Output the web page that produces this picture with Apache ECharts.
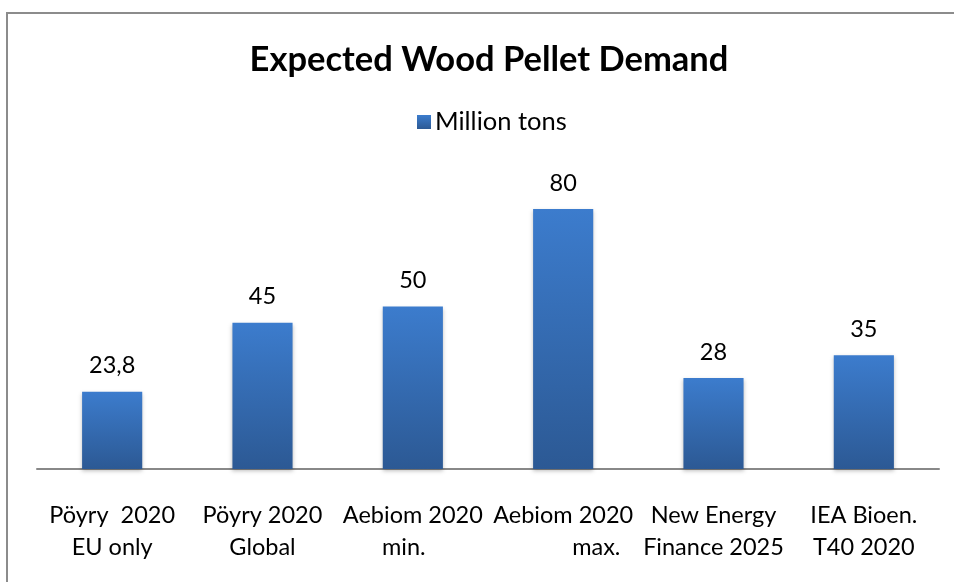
<!DOCTYPE html>
<html>
<head>
<meta charset="utf-8">
<script src="https://cdn.jsdelivr.net/npm/echarts@6/dist/echarts.min.js"></script>
<style>html,body{margin:0;padding:0;background:#fff}#c{width:954px;height:582px}</style>
</head>
<body>
<div id="c"></div>
<script>
var titleText = 'Expected Wood Pellet Demand';
var seriesName = 'Million tons';
var categories = ['Pöyry  2020\nEU only', 'Pöyry 2020\nGlobal', 'Aebiom 2020\nmin.   ', 'Aebiom 2020\n           max.', 'New Energy\nFinance 2025', 'IEA Bioen.\nT40 2020'];
var values = [23.8, 45, 50, 80, 28, 35];

var chart = echarts.init(document.getElementById('c'), null, {renderer: 'canvas'});
var FONT = 'Lato, Carlito, Calibri, sans-serif';
chart.setOption({
  animation: false,
  backgroundColor: '#fff',
  graphic: [{
    type: 'rect', silent: true,
    shape: {x: 7, y: 13, width: 1000, height: 700},
    style: {fill: 'none', stroke: '#8c8c8c', lineWidth: 2}
  }],
  title: {
    text: titleText,
    left: 484, top: 37,
    textAlign: 'center',
    textStyle: {fontFamily: FONT, fontWeight: 'bold', fontSize: 34.5, color: '#000'}
  },
  legend: {
    data: [seriesName],
    left: 417, top: 109, padding: 0,
    icon: 'rect', itemWidth: 14, itemHeight: 14, itemGap: 5,
    textStyle: {fontFamily: FONT, fontSize: 25.5, color: '#000', padding: [0, 0, 0, -1]}
  },
  grid: {left: 37, right: 15, top: 176.5, bottom: 113, containLabel: false},
  xAxis: {
    type: 'category',
    data: categories,
    axisLine: {lineStyle: {color: '#888', width: 2}},
    axisTick: {show: false},
    axisLabel: {interval: 0, margin: 30, fontFamily: FONT, fontSize: 23.5, lineHeight: 32, color: '#000'}
  },
  yAxis: {
    type: 'value', min: 0, max: 90,
    show: false,
    splitLine: {show: false}
  },
  series: [{
    name: seriesName,
    type: 'bar',
    data: values,
    barWidth: '40%',
    itemStyle: {
      color: new echarts.graphic.LinearGradient(0, 0, 0, 1, [
        {offset: 0, color: '#3c7ccd'},
        {offset: 1, color: '#2c5994'}
      ]),
      shadowColor: 'rgba(0,0,0,0.25)',
      shadowBlur: 4,
      shadowOffsetY: 2
    },
    label: {
      show: true, position: 'top', distance: 14,
      fontFamily: FONT, fontSize: 23.5, color: '#000',
      formatter: function (p) { return String(p.value).replace('.', ','); }
    }
  }]
});
</script>
</body>
</html>
